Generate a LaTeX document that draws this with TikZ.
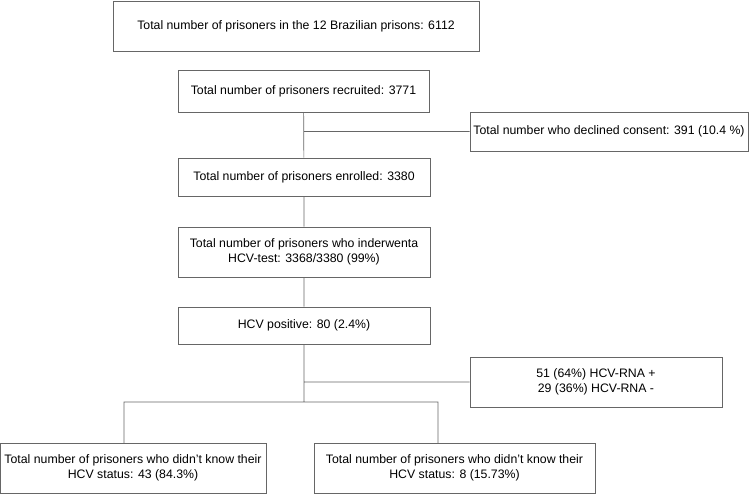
\documentclass[tikz,border=0pt]{standalone}
\usepackage{fontspec}
\setmainfont{Liberation Sans}
\usetikzlibrary{positioning,calc}
\tikzset{
    box/.style={
           rectangle,
           draw=black!60,
           inner sep=2pt,
           text centered,
           font=\fontsize{12.3}{14.5}\selectfont,
           },
}
\begin{document}
\begin{tikzpicture}[x=1pt,y=-1pt,line width=0.7pt]
\useasboundingbox (0,0) rectangle (749,494);

 % main column
 \node[box, minimum width=366, minimum height=50] (TOTAL) at (296,26)
 {Total number of prisoners in the 12 Brazilian prisons: 6112};
 \node[box, minimum width=251, minimum height=42] (RECRUIT) at (303.5,91)
 {Total number of prisoners recruited: 3771};
 \node[box, minimum width=252, minimum height=38] (ENROL) at (304,177)
 {Total number of prisoners enrolled: 3380};
 \node[box, minimum width=252, minimum height=50, align=center] (TESTED) at (304,252)
 {Total number of prisoners who inderwenta\\HCV-test: 3368/3380 (99\%)};
 \node[box, minimum width=252, minimum height=37] (POSITIVE) at (304,325.5)
 {HCV positive: 80 (2.4\%)};

 % side boxes
 \node[box, minimum width=278, minimum height=39] (DECLINED) at (609,131.5)
 {Total number who declined consent: 391 (10.4 \%)};
 \node[box, minimum width=252, minimum height=50, align=center] (RNA) at (596,382)
 {51 (64\%) HCV-RNA +\\29 (36\%) HCV-RNA -};

 % bottom boxes
 \node[box, minimum width=266, minimum height=50, align=center] (UNKNOWNA) at (133,468)
 {Total number of prisoners who didn't know their\\HCV status: 43 (84.3\%)};
 \node[box, minimum width=281, minimum height=50, align=center] (UNKNOWNB) at (454.5,468)
 {Total number of prisoners who didn't know their\\HCV status: 8 (15.73\%)};

 \coordinate (SPLIT) at (304,402);
 \coordinate (DROPA) at (124,443);
 \coordinate (DROPB) at (438,443);

 \draw[black!60] (RECRUIT) -- (ENROL)
  (RECRUIT.south |- DECLINED) -- (DECLINED)
  (ENROL) -- (TESTED)
  (TESTED) -- (POSITIVE)
  (POSITIVE) -- (SPLIT)
  (POSITIVE.south |- RNA) -- (RNA)
  (DROPA) |- (SPLIT) -| (DROPB);
\end{tikzpicture}
\end{document}
